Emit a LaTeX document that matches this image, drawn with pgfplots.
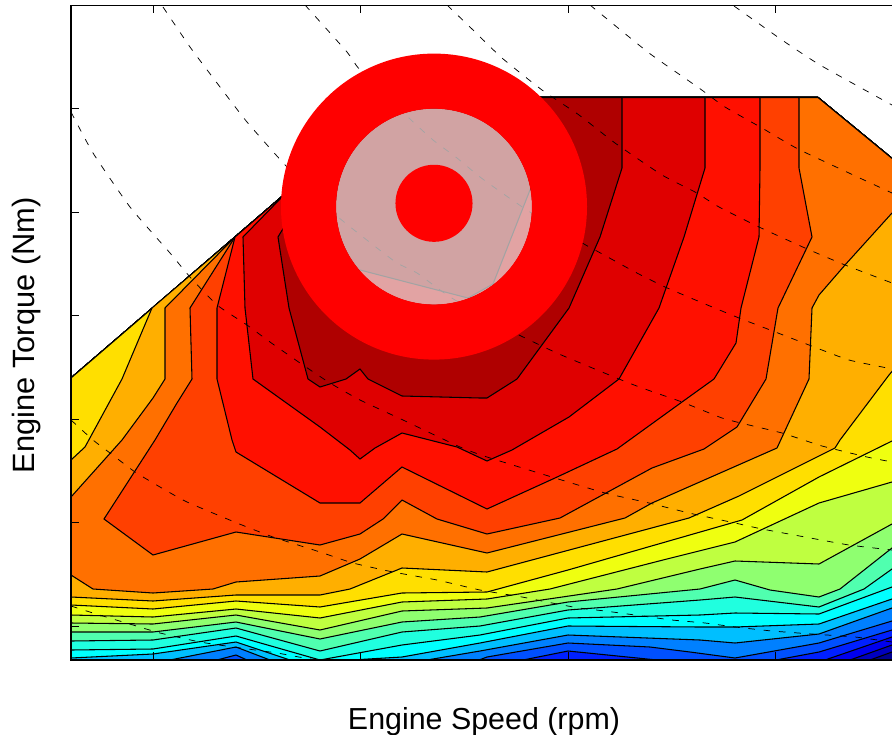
\documentclass[border=0pt]{standalone}
\usepackage{pgfplots}
\pgfplotsset{compat=1.18}
\usepackage{fontspec}
\setmainfont{Liberation Sans}
\definecolor{c0}{HTML}{00008F}
\definecolor{c19}{HTML}{0000BF}
\definecolor{c18}{HTML}{0000EF}
\definecolor{c17}{HTML}{0020FF}
\definecolor{c16}{HTML}{0050FF}
\definecolor{c15}{HTML}{0080FF}
\definecolor{c14}{HTML}{00BFFF}
\definecolor{c13}{HTML}{00FFFF}
\definecolor{c12}{HTML}{20FFDF}
\definecolor{c11}{HTML}{50FFAF}
\definecolor{c10}{HTML}{8FFF70}
\definecolor{c9}{HTML}{BFFF40}
\definecolor{c8}{HTML}{EFFF10}
\definecolor{c7}{HTML}{FFDF00}
\definecolor{c6}{HTML}{FFAF00}
\definecolor{c5}{HTML}{FF7000}
\definecolor{c4}{HTML}{FF4000}
\definecolor{c3}{HTML}{FF1000}
\definecolor{c2}{HTML}{DF0000}
\definecolor{c1}{HTML}{AF0000}
\definecolor{c00}{HTML}{800000}
\pgfplotsset{
 cont/.style={draw=black,line width=0.8pt,fill=#1,no markers},
 eff/.style={draw=black,line width=0.55pt,dash pattern=on 5pt off 6.5pt,no markers,smooth,tension=0.3},
}
\begin{document}
\begin{tikzpicture}
\begin{axis}[
 at={(53.25pt,56.25pt)},anchor=south west,
 scale only axis,width=621.75pt,height=490.875pt,
 xmin=71,xmax=900,ymin=5.5,ymax=660,y dir=reverse,
 xtick={153.5,360.5,568.7,775.5},ytick={108.5,212,315.5,419,522,626},
 xticklabels={},yticklabels={},
 tick align=inside,major tick length=6pt,
 tick style={black,line width=0.6pt},
 axis line style={black,line width=1pt},
 axis on top,
]
% lowest level
\addplot[fill=c0,draw=black,line width=0.8pt,no markers] coordinates {(71,662) (900,662) (900,165) (818,97.5) (397,97.5) (235,237) (71,378)} -- cycle;
% L19
\addplot[cont=c19] coordinates {(71,662) (870,662) (870,660) (892,652) (900,649) (900,165) (818,97.5) (397,97.5) (235,237) (71,378)} -- cycle;
% L18
\addplot[cont=c18] coordinates {(71,662) (850,662) (850,660) (892,645) (900,642) (900,165) (818,97.5) (397,97.5) (235,237) (71,378)} -- cycle;
% L17
\addplot[cont=c17] coordinates {(71,662) (825,662) (825,660) (892,637) (900,634) (900,165) (818,97.5) (397,97.5) (235,237) (71,378)} -- cycle;
% L16
\addplot[cont=c16] coordinates {(71,662) (523,662) (523,660) (568,651) (657,660) (735,664) (776,660) (819,652) (892,630) (900,626) (900,165) (818,97.5) (397,97.5) (235,237) (71,378)} -- cycle;
% L15
\addplot[cont=c15] coordinates {(71,662) (217,662) (217,660) (236,655) (247,660) (300,664) (479,664) (479,660) (487,657) (568,643) (650,647) (690,652) (735,658) (819,643) (892,621) (900,617) (900,165) (818,97.5) (397,97.5) (235,237) (71,378)} -- cycle;
% L14
\addplot[cont=c14] coordinates {(71,664) (170,664) (170,660) (236,647) (270,660) (300,664) (420,664) (427,660) (480,651) (568,635) (700,640) (735,643) (819,634) (892,608) (900,604) (900,165) (818,97.5) (397,97.5) (235,237) (71,378)} -- cycle;
% L13
\addplot[cont=c13] coordinates {(71,658) (153,654) (236,642) (290,660) (320,664) (350,664) (360,659.5) (402,657) (480,643) (568,626) (700,627) (735,627) (819,624) (892,599) (900,595) (900,165) (818,97.5) (397,97.5) (235,237) (71,378)} -- cycle;
% L12
\addplot[cont=c12] coordinates {(71,650) (153,649) (236,636) (320,660) (402,645) (480,635) (568,618) (700,615) (735,613) (819,614) (892,587) (900,582) (900,165) (818,97.5) (397,97.5) (235,237) (71,378)} -- cycle;
% L11
\addplot[cont=c11] coordinates {(71,641) (153,640) (236,628) (320,651) (402,632) (480,626) (568,610) (700,600) (735,597) (819,607) (864,589) (892,569) (900,563) (900,165) (818,97.5) (397,97.5) (235,237) (71,378)} -- cycle;
% L10
\addplot[cont=c10] coordinates {(71,632) (153,632) (236,622) (320,639) (402,622) (480,617) (568,602) (700,589) (735,580) (770,590) (819,597) (840,589) (892,548) (900,542) (900,165) (818,97.5) (397,97.5) (235,237) (71,378)} -- cycle;
% L9
\addplot[cont=c9] coordinates {(71,623) (153,624) (236,615) (320,630) (402,611) (487,608) (617,589) (700,569) (735,561) (819,564) (892,524) (900,519) (900,165) (818,97.5) (397,97.5) (235,237) (71,378)} -- cycle;
% L8
\addplot[cont=c8] coordinates {(71,615) (153,617) (236,609) (320,618) (402,602) (487,599) (550,589) (663,560) (735,542) (819,503) (892,482) (900,480) (900,165) (818,97.5) (397,97.5) (235,237) (71,378)} -- cycle;
% L7
\addplot[cont=c7] coordinates {(71,605) (153,609) (236,601) (320,607) (402,593) (487,592) (568,570) (735,522) (742,520) (819,477) (892,441) (900,437) (900,165) (818,97.5) (397,97.5) (235,237) (71,378)} -- cycle;
% L6
\addplot[cont=c6] coordinates {(152,308) (122,379) (85,447) (71,460) (71,597) (153,601) (236,595) (320,595) (350,589) (402,568) (487,572) (689,518) (739,496) (835,448) (840,440) (889,375) (900,362) (900,165) (818,97.5) (397,97.5) (235,237)} -- cycle;
% L5
\addplot[cont=c5] coordinates {(235,237) (165,308) (165,379) (153,398) (122,440) (71,497) (71,575) (93,589) (153,593) (213,589) (236,582) (320,576) (360,559) (402,534) (487,553) (625,518) (652,503) (777,448) (809,379) (812,308) (819,295) (845,265) (892,213) (900,205) (900,165) (818,97.5) (397,97.5)} -- cycle;
% L4
\addplot[cont=c4] coordinates {(235,237) (190,308) (192,379) (177,403) (155,440) (104,519) (153,555) (236,532) (320,545) (360,534) (383,519) (402,500) (437,519) (487,534) (560,518) (652,468) (704,449) (737,427) (766,379) (778,308) (812,237) (799,168) (799,97.5) (397,97.5)} -- cycle;
% L3
\addplot[cont=c3] coordinates {(235,237) (217,308) (217,379) (232,440) (236,452) (320,503) (360,503) (402,467) (487,509) (555,478) (617,449) (682,402) (714,379) (736,343) (741,308) (759,237) (760,168) (760,97.5) (397,97.5)} -- cycle;
% L2
\addplot[cont=c2] coordinates {(283,196) (243,237) (245,308) (253,379) (320,427) (350,450) (360,459) (375,448) (402,433) (457,447) (487,461) (512,450) (569,417) (619,379) (659,308) (684,237) (705,168) (705,97.5) (397,97.5)} -- cycle;
% L1
\addplot[cont=c1] coordinates {(330,155) (281,232) (278,237) (289,308) (308,379) (320,387) (346,379) (360,369) (368,379) (402,396) (480,398) (487,398) (517,379) (569,308) (600,237) (622,168) (622,97.5) (397,97.5)} -- cycle;
% peak, hidden but for the ring
\addplot[cont=c00] coordinates {(360,270) (320,262) (310,200) (340,120) (434,85) (520,120) (545,160) (530,190) (493,284) (468,298)} -- cycle;
% dashed curves
\addplot[eff] coordinates {(71,112) (93,153) (130,207) (170,253) (190,277) (217,305) (247,325) (270,342) (300,363) (330,383) (360,400) (403,420) (460,447) (487,457) (555,478) (605,493) (649,503) (689,513) (735,523) (762,529) (805,537) (849,545) (892,550) (900,551)};
\addplot[eff] coordinates {(71,420) (93,440) (110,453) (135,472) (160,487) (187,502) (237,523) (273,537) (320,552) (353,563) (393,572) (437,580) (480,590) (522,597) (552,603) (579,608) (605,611) (635,615) (672,620) (705,623) (735,627) (772,631) (812,634) (855,637) (892,642) (900,643)};
\addplot[eff] coordinates {(71,606) (93,613) (133,625) (160,633) (200,642) (233,647) (277,653) (310,659) (337,662)};
\addplot[eff] coordinates {(163,7) (190,47) (217,83) (247,122) (287,167) (337,216) (363,237) (377,248) (397,263) (417,273) (440,290) (455,300) (487,318) (519,335) (559,354) (619,379) (642,388) (682,402) (722,418) (749,425) (782,433) (822,446) (867,457) (892,462) (900,464)};
\addplot[eff] coordinates {(305,5) (347,52) (360,70) (409,118) (433,140) (457,158) (480,177) (505,195) (530,212) (584,244) (595,250) (635,272) (665,287) (705,304) (739,318) (765,328) (809,345) (849,360) (892,369) (900,372)};
\addplot[eff] coordinates {(447,5) (472,29) (502,58) (542,90) (579,115) (615,143) (662,175) (695,192) (719,207) (759,227) (805,248) (845,265) (892,283) (900,286)};
\addplot[eff] coordinates {(590,5) (649,53) (699,88) (725,107) (762,128) (800,150) (892,193) (900,197)};
\addplot[eff] coordinates {(734,6) (782,40) (820,65) (892,105) (900,109)};
% bullseye marker
\addplot[only marks,mark=*,mark size=73.5pt,mark options={draw opacity=0,fill=white,fill opacity=0.64}] coordinates {(434,206.6)};
\addplot[only marks,mark=o,mark size=94.1pt,mark options={draw=red,line width=41.3pt}] coordinates {(434,206.6)};
\addplot[only marks,mark=*,mark size=28.9pt,mark options={draw opacity=0,fill=red}] coordinates {(434,203.3)};
\end{axis}
\node[anchor=base,font=\fontsize{22.8}{27}\selectfont] at (363pt,4.5pt) {Engine Speed (rpm)};
\node[anchor=base,rotate=90,font=\fontsize{23.1}{27}\selectfont] at (25.5pt,299.8pt) {Engine Torque (Nm)};
\pgfresetboundingbox
\useasboundingbox (0,0) rectangle (669pt,551.25pt);
\end{tikzpicture}
\end{document}
